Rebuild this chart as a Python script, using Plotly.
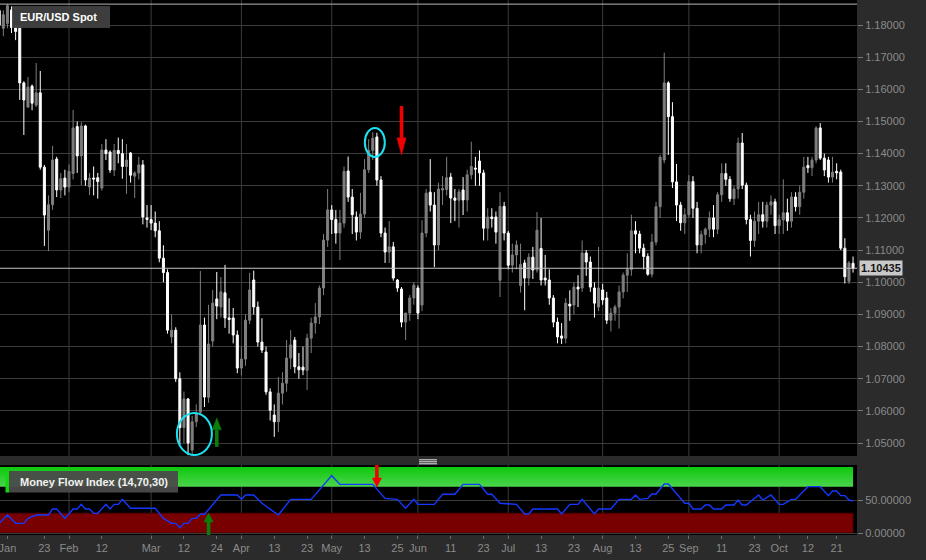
import pandas as pd
import plotly.graph_objects as go

# ---------------- data ----------------
dates = pd.bdate_range("2015-01-08", "2015-10-27")

opens = [
    # Jan
    1.1845, 1.1790, 1.1805, 1.1847, 1.1792, 1.1790, 1.1620, 1.1545, 1.1610, 1.1551, 1.1589, 1.1358, 1.1162, 1.1241, 1.1383, 1.1287, 1.1324,
    # Feb
    1.1296, 1.1338, 1.1484, 1.1393, 1.1486, 1.1296, 1.1324, 1.1325, 1.1293, 1.1411, 1.1405, 1.1349, 1.1410, 1.1400, 1.1360, 1.1402, 1.1330, 1.1340, 1.1365, 1.1200,
    # Mar
    1.1195, 1.1184, 1.1160, 1.1075, 1.1030, 1.0830, 1.0851, 1.0700, 1.0548, 1.0637, 1.0478, 1.0566, 1.0596, 1.0867, 1.0642, 1.0817, 1.0948, 1.0923, 1.0967, 1.0889, 1.0889, 1.0836,
    # Apr
    1.0733, 1.0761, 1.0882, 1.1007, 1.0923, 1.0814, 1.0783, 1.0659, 1.0587, 1.0566, 1.0655, 1.0686, 1.0764, 1.0820, 1.0737, 1.0736, 1.0726, 1.0826, 1.0873, 1.0892, 1.0982, 1.1131,
    # May
    1.1225, 1.1195, 1.1153, 1.1184, 1.1346, 1.1265, 1.1203, 1.1156, 1.1212, 1.1350, 1.1410, 1.1452, 1.1318, 1.1153, 1.1094, 1.1110, 1.1007, 1.0979, 1.0876, 1.0904, 1.0951,
    # Jun
    1.0982, 1.0929, 1.1153, 1.1280, 1.1240, 1.1116, 1.1287, 1.1288, 1.1327, 1.1262, 1.1255, 1.1287, 1.1256, 1.1334, 1.1355, 1.1377, 1.1340, 1.1168, 1.1203, 1.1203, 1.1006, 1.1236,
    # Jul
    1.1153, 1.1053, 1.1085, 1.0990, 1.1060, 1.1013, 1.1078, 1.1038, 1.1105, 1.1013, 1.1007, 1.0951, 1.0876, 1.0833, 1.0826, 1.0932, 1.0929, 1.0985, 1.0982, 1.1091, 1.1063, 1.0982, 1.0923,
    # Aug
    1.0976, 1.0951, 1.0882, 1.0904, 1.0923, 1.0970, 1.1022, 1.1040, 1.1160, 1.1150, 1.1106, 1.1080, 1.1025, 1.1125, 1.1235, 1.1380, 1.1620, 1.1515, 1.1312, 1.1240, 1.1185,
    # Sep
    1.1210, 1.1313, 1.1230, 1.1116, 1.1148, 1.1165, 1.1200, 1.1165, 1.1272, 1.1338, 1.1320, 1.1260, 1.1290, 1.1433, 1.1302, 1.1195, 1.1130, 1.1190, 1.1210, 1.1190, 1.1240, 1.1250,
    # Oct
    1.1176, 1.1194, 1.1216, 1.1190, 1.1265, 1.1235, 1.1280, 1.1363, 1.1356, 1.1380, 1.1480, 1.1386, 1.1380, 1.1327, 1.1345, 1.1343, 1.1106, 1.1003, 1.1059,
]
highs = [
    1.1850, 1.1846, 1.1865, 1.1858, 1.1800, 1.1795, 1.1625, 1.1638, 1.1615, 1.1682, 1.1657, 1.1365, 1.1270, 1.1424, 1.1390, 1.1340, 1.1350,
    1.1366, 1.1536, 1.1500, 1.1498, 1.1490, 1.1340, 1.1360, 1.1340, 1.1430, 1.1445, 1.1410, 1.1430, 1.1450, 1.1445, 1.1430, 1.1405, 1.1345, 1.1390, 1.1380, 1.1240,
    1.1240, 1.1220, 1.1190, 1.1115, 1.1040, 1.0900, 1.0860, 1.0720, 1.0660, 1.0640, 1.0585, 1.0620, 1.1035, 1.0890, 1.0930, 1.0976, 1.1032, 1.1016, 1.1054, 1.0950, 1.0920, 1.0850,
    1.0800, 1.0900, 1.1029, 1.1036, 1.0940, 1.0888, 1.0800, 1.0670, 1.0620, 1.0705, 1.0720, 1.0820, 1.0851, 1.0830, 1.0780, 1.0800, 1.0840, 1.0890, 1.0935, 1.0990, 1.1150, 1.1290,
    1.1240, 1.1225, 1.1225, 1.1360, 1.1391, 1.1290, 1.1220, 1.1278, 1.1383, 1.1445, 1.1467, 1.1465, 1.1330, 1.1170, 1.1190, 1.1125, 1.1010, 1.0985, 1.0905, 1.0960, 1.1000,
    1.0990, 1.1193, 1.1290, 1.1383, 1.1280, 1.1310, 1.1330, 1.1390, 1.1340, 1.1290, 1.1290, 1.1327, 1.1350, 1.1437, 1.1390, 1.1410, 1.1350, 1.1230, 1.1230, 1.1220, 1.1280, 1.1250,
    1.1160, 1.1120, 1.1130, 1.1120, 1.1070, 1.1090, 1.1110, 1.1218, 1.1200, 1.1085, 1.1040, 1.0960, 1.0890, 1.0873, 1.0950, 1.0975, 1.1000, 1.1022, 1.1130, 1.1100, 1.1080, 1.1000, 1.1110,
    1.0995, 1.0970, 1.0920, 1.0930, 1.0990, 1.1030, 1.1090, 1.1210, 1.1190, 1.1160, 1.1120, 1.1090, 1.1150, 1.1250, 1.1396, 1.1714, 1.1625, 1.1560, 1.1368, 1.1250, 1.1230,
    1.1333, 1.1330, 1.1250, 1.1160, 1.1170, 1.1220, 1.1240, 1.1280, 1.1370, 1.1370, 1.1330, 1.1300, 1.1450, 1.1464, 1.1310, 1.1210, 1.1220, 1.1250, 1.1250, 1.1250, 1.1270, 1.1260,
    1.1210, 1.1320, 1.1260, 1.1280, 1.1280, 1.1300, 1.1390, 1.1390, 1.1390, 1.1485, 1.1495, 1.1400, 1.1390, 1.1390, 1.1370, 1.1350, 1.1137, 1.1066, 1.1080,
]
lows = [
    1.1755, 1.1765, 1.1790, 1.1775, 1.1753, 1.1567, 1.1458, 1.1542, 1.1535, 1.1545, 1.1350, 1.1113, 1.1097, 1.1225, 1.1265, 1.1262, 1.1270,
    1.1280, 1.1320, 1.1340, 1.1302, 1.1300, 1.1271, 1.1270, 1.1260, 1.1285, 1.1380, 1.1340, 1.1330, 1.1370, 1.1322, 1.1275, 1.1310, 1.1262, 1.1320, 1.1180, 1.1170,
    1.1162, 1.1140, 1.1062, 1.1000, 1.0840, 1.0810, 1.0690, 1.0494, 1.0500, 1.0462, 1.0458, 1.0550, 1.0590, 1.0612, 1.0625, 1.0800, 1.0885, 1.0890, 1.0858, 1.0840, 1.0810, 1.0717,
    1.0710, 1.0740, 1.0870, 1.0900, 1.0800, 1.0780, 1.0650, 1.0570, 1.0519, 1.0534, 1.0620, 1.0660, 1.0730, 1.0717, 1.0700, 1.0711, 1.0665, 1.0780, 1.0840, 1.0870, 1.0960, 1.1110,
    1.1150, 1.1120, 1.1069, 1.1170, 1.1250, 1.1150, 1.1130, 1.1135, 1.1200, 1.1340, 1.1380, 1.1300, 1.1140, 1.1060, 1.1060, 1.1005, 1.0970, 1.0860, 1.0820, 1.0880, 1.0930,
    1.0885, 1.0910, 1.1140, 1.1220, 1.1047, 1.1100, 1.1240, 1.1270, 1.1184, 1.1190, 1.1170, 1.1209, 1.1220, 1.1320, 1.1300, 1.1300, 1.1130, 1.1130, 1.1170, 1.1120, 1.0954, 1.1130,
    1.1040, 1.1030, 1.1040, 1.0968, 1.0913, 1.0990, 1.1010, 1.1030, 1.0990, 1.0990, 1.0930, 1.0860, 1.0810, 1.0808, 1.0810, 1.0880, 1.0900, 1.0923, 1.0970, 1.1020, 1.0970, 1.0890, 1.0910,
    1.0930, 1.0870, 1.0847, 1.0880, 1.0856, 1.0950, 1.0970, 1.1020, 1.1090, 1.1090, 1.1040, 1.1020, 1.1015, 1.1115, 1.1200, 1.1370, 1.1396, 1.1293, 1.1190, 1.1160, 1.1150,
    1.1200, 1.1200, 1.1090, 1.1090, 1.1120, 1.1140, 1.1140, 1.1150, 1.1250, 1.1300, 1.1250, 1.1240, 1.1260, 1.1290, 1.1180, 1.1080, 1.1110, 1.1150, 1.1170, 1.1170, 1.1210, 1.1150,
    1.1150, 1.1150, 1.1160, 1.1170, 1.1220, 1.1210, 1.1260, 1.1340, 1.1330, 1.1370, 1.1380, 1.1330, 1.1310, 1.1310, 1.1320, 1.1100, 1.0996, 1.0995, 1.1030,
]
closes = [
    1.1800, 1.1832, 1.1860, 1.1792, 1.1780, 1.1620, 1.1567, 1.1607, 1.1557, 1.1589, 1.1358, 1.1209, 1.1241, 1.1380, 1.1287, 1.1322, 1.1296,
    1.1345, 1.1480, 1.1393, 1.1486, 1.1318, 1.1324, 1.1321, 1.1313, 1.1411, 1.1400, 1.1349, 1.1410, 1.1400, 1.1360, 1.1380, 1.1333, 1.1340, 1.1365, 1.1203, 1.1195,
    1.1184, 1.1160, 1.1075, 1.1030, 1.0851, 1.0851, 1.0700, 1.0548, 1.0637, 1.0500, 1.0566, 1.0590, 1.0867, 1.0643, 1.0808, 1.0935, 1.0926, 1.0970, 1.0889, 1.0884, 1.0836, 1.0733,
    1.0761, 1.0882, 1.0976, 1.0923, 1.0814, 1.0789, 1.0659, 1.0602, 1.0566, 1.0655, 1.0686, 1.0764, 1.0805, 1.0737, 1.0728, 1.0727, 1.0826, 1.0873, 1.0892, 1.0982, 1.1131, 1.1225,
    1.1195, 1.1153, 1.1184, 1.1345, 1.1265, 1.1210, 1.1156, 1.1212, 1.1350, 1.1410, 1.1448, 1.1318, 1.1153, 1.1094, 1.1110, 1.1013, 1.0982, 1.0876, 1.0904, 1.0951, 1.0991,
    1.0904, 1.1153, 1.1277, 1.1240, 1.1116, 1.1290, 1.1291, 1.1325, 1.1262, 1.1255, 1.1281, 1.1256, 1.1334, 1.1360, 1.1352, 1.1340, 1.1168, 1.1203, 1.1198, 1.1156, 1.1236, 1.1153,
    1.1053, 1.1085, 1.1116, 1.1055, 1.1013, 1.1078, 1.1038, 1.1162, 1.1007, 1.1007, 1.0951, 1.0876, 1.0830, 1.0826, 1.0935, 1.0926, 1.0985, 1.0979, 1.1091, 1.1063, 1.0985, 1.0935, 1.0982,
    1.0945, 1.0882, 1.0904, 1.0923, 1.0970, 1.1022, 1.1040, 1.1160, 1.1150, 1.1106, 1.1080, 1.1025, 1.1125, 1.1235, 1.1389, 1.1620, 1.1515, 1.1312, 1.1240, 1.1185, 1.1210,
    1.1313, 1.1230, 1.1116, 1.1148, 1.1165, 1.1200, 1.1165, 1.1272, 1.1338, 1.1320, 1.1260, 1.1290, 1.1433, 1.1302, 1.1195, 1.1130, 1.1190, 1.1210, 1.1190, 1.1240, 1.1250, 1.1176,
    1.1194, 1.1216, 1.1190, 1.1265, 1.1235, 1.1280, 1.1358, 1.1356, 1.1380, 1.1480, 1.1386, 1.1349, 1.1327, 1.1342, 1.1340, 1.1106, 1.1017, 1.1060, 1.10435,
]

# Money Flow Index (14,70,30): turning points of the line
mfi_dates = [
    "2015-01-08", "2015-01-12", "2015-01-14", "2015-01-16", "2015-01-19", "2015-01-21", "2015-01-26", "2015-01-27",
    "2015-01-28", "2015-01-30", "2015-02-03", "2015-02-04", "2015-02-05", "2015-02-06", "2015-02-09", "2015-02-10",
    "2015-02-11", "2015-02-13", "2015-02-16", "2015-02-17", "2015-02-18", "2015-02-19", "2015-02-23", "2015-03-03",
    "2015-03-05", "2015-03-09", "2015-03-10", "2015-03-11", "2015-03-12", "2015-03-13", "2015-03-16", "2015-03-17",
    "2015-03-18", "2015-03-19", "2015-03-25", "2015-03-31", "2015-04-01", "2015-04-02", "2015-04-06", "2015-04-08",
    "2015-04-14", "2015-04-17", "2015-04-24", "2015-05-01", "2015-05-05", "2015-05-15", "2015-05-20", "2015-05-25",
    "2015-05-27", "2015-05-29", "2015-06-01", "2015-06-05", "2015-06-09", "2015-06-12", "2015-06-16", "2015-06-22",
    "2015-06-24", "2015-06-25", "2015-06-29", "2015-07-03", "2015-07-07", "2015-07-08", "2015-07-09", "2015-07-17",
    "2015-07-20", "2015-07-22", "2015-07-24", "2015-07-27", "2015-07-30", "2015-07-31", "2015-08-05", "2015-08-07",
    "2015-08-12", "2015-08-13", "2015-08-14", "2015-08-18", "2015-08-19", "2015-08-20", "2015-08-24", "2015-08-25",
    "2015-08-31", "2015-09-01", "2015-09-02", "2015-09-04", "2015-09-07", "2015-09-08", "2015-09-09", "2015-09-11",
    "2015-09-14", "2015-09-16", "2015-09-17", "2015-09-18", "2015-09-21", "2015-09-24", "2015-09-25", "2015-09-29",
    "2015-10-01", "2015-10-02", "2015-10-06", "2015-10-07", "2015-10-12", "2015-10-15", "2015-10-19", "2015-10-20",
    "2015-10-21", "2015-10-22", "2015-10-23", "2015-10-26", "2015-10-27",
]
mfi_values = [
    14.6, 27.3, 14.6, 14.6, 22.2, 27.3, 27.3, 36.4,
    36.4, 22.2, 36.4, 36.4, 43.4, 36.4, 36.4, 29.8,
    29.8, 43.4, 36.4, 43.4, 43.4, 51.0, 37.4, 37.4,
    22.2, 14.6, 14.6, 8.0, 14.6, 14.6, 22.2, 22.2,
    28.3, 28.3, 57.6, 57.6, 51.0, 57.6, 57.6, 45.0,
    27.3, 51.0, 51.0, 86.9, 73.7, 73.7, 52.5, 51.0,
    37.4, 51.0, 43.4, 43.4, 58.6, 58.6, 73.7, 73.7,
    58.6, 58.6, 45.0, 43.4, 28.8, 28.8, 36.4, 36.4,
    28.8, 43.4, 43.4, 51.0, 28.8, 36.4, 36.4, 51.0,
    51.0, 57.6, 51.0, 52.5, 59.1, 59.1, 74.2, 74.2,
    45.0, 45.0, 36.4, 36.4, 42.4, 42.4, 36.4, 36.4,
    42.4, 42.4, 50.0, 42.4, 42.4, 57.6, 50.0, 57.6,
    43.4, 43.4, 51.0, 51.0, 70.2, 70.2, 56.6, 63.6,
    63.6, 56.6, 56.6, 50.0, 48.5,
]
mfi_upper = 70
mfi_lower = 30

price_ticks = [1.05, 1.06, 1.07, 1.08, 1.09, 1.10, 1.11, 1.12, 1.13, 1.14, 1.15, 1.16, 1.17, 1.18]
mfi_ticks = [0, 50]
tick_dates = ["2015-01-12", "2015-01-23", "2015-02-02", "2015-02-12", "2015-03-02", "2015-03-12", "2015-03-24",
              "2015-04-01", "2015-04-13", "2015-04-23", "2015-05-01", "2015-05-13", "2015-05-25", "2015-06-01",
              "2015-06-11", "2015-06-23", "2015-07-01", "2015-07-13", "2015-07-23", "2015-08-03", "2015-08-13",
              "2015-08-25", "2015-09-01", "2015-09-11", "2015-09-23", "2015-10-01", "2015-10-12", "2015-10-21"]
tick_text = ["Jan", "23", "Feb", "12", "Mar", "12", "24", "Apr", "13", "23", "May", "13", "25", "Jun", "11", "23",
             "Jul", "13", "23", "Aug", "13", "25", "Sep", "11", "23", "Oct", "12", "21"]

# signals marked on the chart
buy_date, sell_date = "2015-03-24", "2015-05-26"
mfi_buy_date, mfi_sell_date = "2015-03-20", "2015-05-18"

n = len(dates)
assert len(opens) == len(highs) == len(lows) == len(closes) == n
assert len(mfi_dates) == len(mfi_values)
pos = {d.strftime("%Y-%m-%d"): i for i, d in enumerate(dates)}
xs = list(range(n))

# ---------------- geometry ----------------
W, H = 926, 560
MR, MB = 69, 25
PW, PH = W - MR, H - MB          # plot area 857 x 535
MAIN_BOTTOM, SUB_TOP = 456, 465  # px from top
x_range = [0.19, 208.96]
y_range = [1.04596, 1.18778]
y2_range = [-3.03, 103.03]
dx_px = (x_range[1] - x_range[0]) / PW


def px(xp):
    return xp / PW


def py(yp):
    return (PH - yp) / PH


BG = "#2b2b2b"
GRID = "#3b3b3b"
TICKC = "#8a8a8a"

fig = go.Figure()

fig.add_trace(go.Candlestick(
    x=xs, open=opens, high=highs, low=lows, close=closes,
    increasing=dict(line=dict(color="#7f7f7f", width=1), fillcolor="#7f7f7f"),
    decreasing=dict(line=dict(color="#ffffff", width=1), fillcolor="#ffffff"),
    whiskerwidth=0, hoverinfo="skip", xaxis="x", yaxis="y",
))

# overbought band (gradient) in MFI panel
fig.add_trace(go.Scatter(
    x=[0, n - 1, n - 1, 0, 0], y=[mfi_upper, mfi_upper, 100, 100, mfi_upper],
    mode="lines", line=dict(width=0), fill="toself",
    fillgradient=dict(type="vertical", colorscale=[[0, "#4bd54b"], [1, "#0ec70e"]]),
    hoverinfo="skip", xaxis="x", yaxis="y2",
))

fig.add_trace(go.Scatter(
    x=[pos[d] for d in mfi_dates], y=mfi_values, mode="lines",
    line=dict(color="#1438ff", width=1.4), hoverinfo="skip", xaxis="x", yaxis="y2",
))

shapes = []
# oversold band
shapes.append(dict(type="rect", xref="x", yref="y2", x0=0, x1=n - 1, y0=0, y1=mfi_lower,
                   fillcolor="#780000", line=dict(color="#4a0000", width=1), layer="below"))
# month gridlines
month_starts = [i for i in range(1, n) if dates[i].month != dates[i - 1].month]
for i in month_starts:
    for yr in ("y domain", "y2 domain"):
        shapes.append(dict(type="line", xref="x", yref=yr, x0=i, x1=i, y0=0, y1=1,
                           line=dict(color=GRID, width=1), layer="below"))
# highest-high line and last price line
shapes.append(dict(type="line", xref="x domain", yref="y", x0=0, x1=1, y0=max(highs), y1=max(highs),
                   line=dict(color="#b8b8b8", width=1), layer="above"))
shapes.append(dict(type="line", xref="x domain", yref="y", x0=0, x1=1, y0=closes[-1], y1=closes[-1],
                   line=dict(color="#c4c4c4", width=1), layer="above"))


def arrow(xc, y_tail, y_base, y_tip, yref, color, half_px=4.6, shaft_px=3.6):
    hw = half_px * dx_px
    shapes.append(dict(type="line", xref="x", yref=yref, x0=xc, x1=xc, y0=y_tail, y1=y_base,
                       line=dict(color=color, width=shaft_px), layer="above"))
    shapes.append(dict(type="path", xref="x", yref=yref,
                       path=f"M {xc - hw},{y_base} L {xc + hw},{y_base} L {xc},{y_tip} Z",
                       fillcolor=color, line=dict(color=color, width=0.5), layer="above"))


RED, GREEN = "#f00000", "#0b7d0b"
arrow(pos[sell_date], 1.1548, 1.1449, 1.1396, "y", RED)
arrow(pos[buy_date], 1.0488, 1.0541, 1.0578, "y", GREEN)
arrow(pos[mfi_sell_date], 103.0, 83.3, 69.7, "y2", RED)
arrow(pos[mfi_buy_date], -3.0, 16.7, 30.3, "y2", GREEN)


def ellipse(date, frac, price, rx_px, ry_px):
    xc = pos[date] + frac
    ry = ry_px * (y_range[1] - y_range[0]) / MAIN_BOTTOM
    shapes.append(dict(type="circle", xref="x", yref="y", x0=xc - rx_px * dx_px, x1=xc + rx_px * dx_px,
                       y0=price - ry, y1=price + ry, line=dict(color="#19e3f2", width=2), layer="above"))


ellipse("2015-03-16", 0.55, 1.0528, 17.5, 21)
ellipse("2015-05-15", 0.5, 1.1435, 10, 14.5)

# title box
shapes.append(dict(type="rect", xref="paper", yref="paper", x0=px(12), x1=px(110), y0=py(28), y1=py(6),
                   fillcolor="rgba(66,66,66,0.93)", line=dict(width=0), layer="above"))
# MFI label box with green stripe
shapes.append(dict(type="rect", xref="paper", yref="paper", x0=px(9), x1=px(178), y0=py(492.5), y1=py(471),
                   fillcolor="rgba(74,74,74,0.95)", line=dict(width=0), layer="above"))
shapes.append(dict(type="rect", xref="paper", yref="paper", x0=px(5.5), x1=px(9), y0=py(492.5), y1=py(471),
                   fillcolor="#12d812", line=dict(width=0), layer="above"))
# panel splitter handle
for yy in (459.8, 461.8, 463.8):
    shapes.append(dict(type="line", xref="paper", yref="paper", x0=px(419), x1=px(437), y0=py(yy), y1=py(yy),
                       line=dict(color="#e6e6e6", width=1), layer="above"))

annotations = [
    dict(text="<b>EUR/USD Spot</b>", xref="paper", yref="paper", x=px(18), y=py(17), xanchor="left",
         yanchor="middle", showarrow=False, font=dict(color="#ffffff", size=11)),
    dict(text="<b>Money Flow Index (14,70,30)</b>", xref="paper", yref="paper", x=px(18), y=py(481.5),
         xanchor="left", yanchor="middle", showarrow=False, font=dict(color="#f2f2f2", size=11)),
    dict(text=f"<b>{closes[-1]:.5f}</b>", xref="paper", yref="y", x=1, y=closes[-1], xanchor="left",
         yanchor="middle", xshift=2, showarrow=False, bgcolor="#c9c9c9", borderpad=1,
         font=dict(color="#141414", size=11)),
]

fig.update_layout(
    width=W, height=H, margin=dict(l=0, r=MR, t=0, b=MB, pad=0, autoexpand=False),
    paper_bgcolor=BG, plot_bgcolor="#000000", showlegend=False, hovermode=False,
    font=dict(family="Liberation Sans, Arial, sans-serif", size=11, color=TICKC),
    shapes=shapes, annotations=annotations,
    xaxis=dict(range=x_range, domain=[0, 1], anchor="y2", tickmode="array",
               tickvals=[pos[d] for d in tick_dates], ticktext=tick_text, ticks="outside", ticklen=3,
               tickcolor="#6e6e6e", tickfont=dict(color=TICKC, size=11), showgrid=False, zeroline=False,
               showline=False, rangeslider=dict(visible=False), fixedrange=True,
               ticklabeloverflow="allow"),
    yaxis=dict(domain=[py(MAIN_BOTTOM), 1], range=y_range, side="right", anchor="x", tickmode="array",
               tickvals=price_ticks, tickformat=".5f", ticks="outside", ticklen=5, tickcolor="#7a7a7a",
               tickfont=dict(color=TICKC, size=11), gridcolor=GRID, gridwidth=1, zeroline=False,
               showline=False, fixedrange=True),
    yaxis2=dict(domain=[0, py(SUB_TOP)], range=y2_range, side="right", anchor="x", tickmode="array",
                tickvals=mfi_ticks, tickformat=".5f", ticks="outside", ticklen=5, tickcolor="#7a7a7a",
                tickfont=dict(color=TICKC, size=11), gridcolor=GRID, gridwidth=1, zeroline=False,
                showline=False, fixedrange=True),
)

fig.write_html(
    "out.html",
    config={"displayModeBar": False},
    post_script="document.body.style.margin='0px';document.body.style.background='%s';" % BG,
)
